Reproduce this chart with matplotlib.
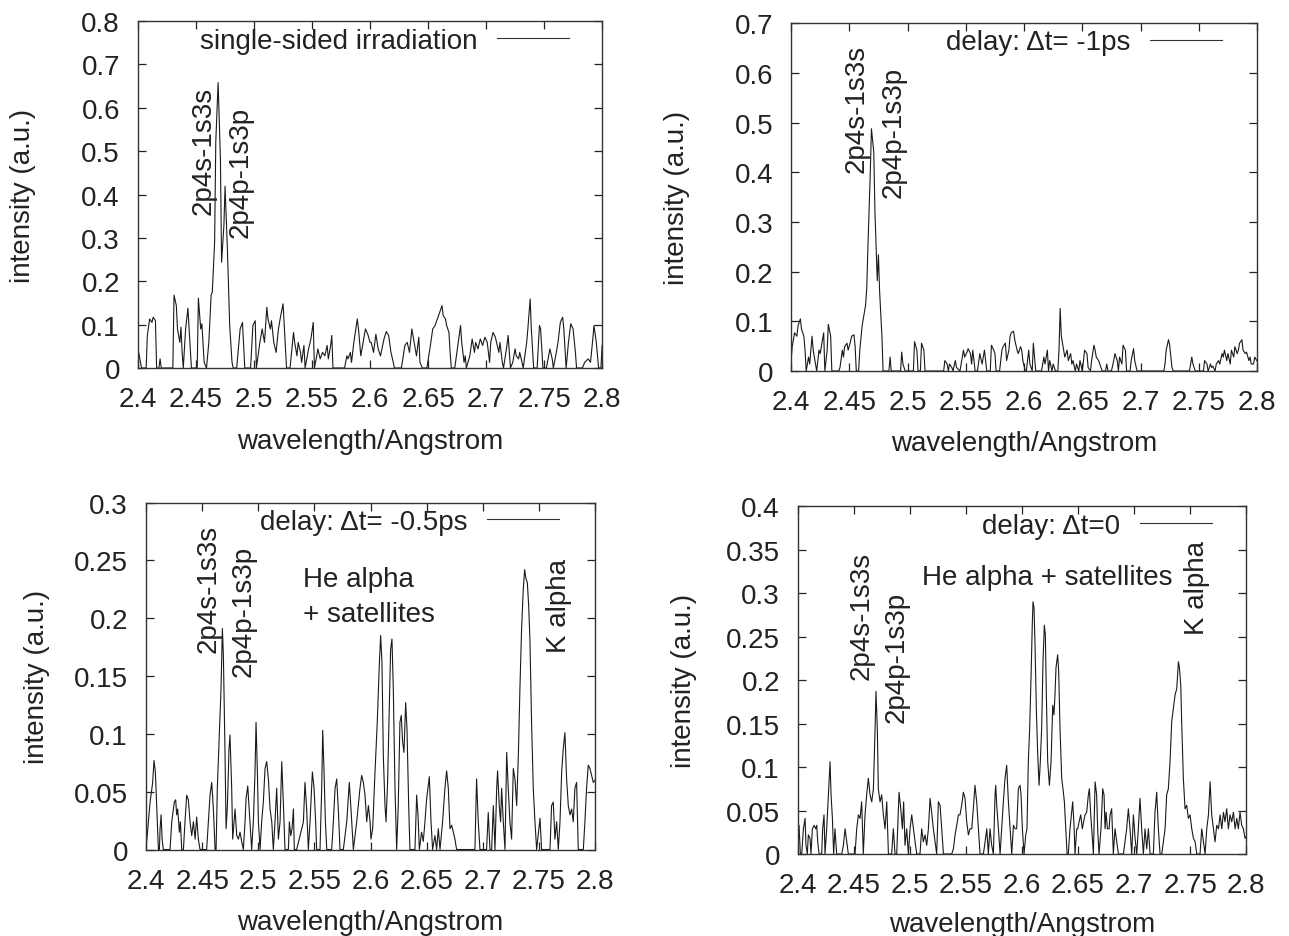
import matplotlib
matplotlib.use("Agg")
import matplotlib.pyplot as plt
from matplotlib.ticker import FixedLocator, FuncFormatter
from matplotlib.lines import Line2D

plt.rcParams['font.family'] = ['Liberation Sans', 'DejaVu Sans']

# ---------------- data (wavelength / Angstrom, intensity a.u.) ----------------
single_sided = [
    (2.400,0.044),(2.403,0),(2.407,0),(2.408,0.075),(2.410,0.113),(2.412,0.105),(2.413,0.117),(2.415,0.109),
    (2.416,0),(2.418,0),(2.419,0.021),(2.420,0),(2.430,0),(2.431,0.168),(2.433,0.144),(2.434,0.090),
    (2.436,0.059),(2.437,0.094),(2.438,0.036),(2.439,0),(2.441,0.090),(2.443,0.138),(2.444,0.090),(2.446,0),
    (2.451,0),(2.452,0.161),(2.454,0.090),(2.455,0.102),(2.457,0.013),(2.459,0),(2.461,0.059),(2.463,0.168),
    (2.464,0.175),(2.466,0.290),(2.467,0.521),(2.469,0.658),(2.471,0.482),(2.472,0.244),(2.474,0.328),(2.475,0.419),
    (2.477,0.275),(2.479,0.098),(2.481,0.013),(2.482,0),(2.485,0),(2.488,0.090),(2.490,0.105),(2.492,0),
    (2.497,0),(2.499,0.098),(2.501,0.109),(2.502,0),(2.505,0.059),(2.507,0.090),(2.509,0.059),(2.511,0.140),
    (2.512,0.113),(2.514,0.090),(2.515,0.109),(2.517,0.059),(2.519,0.036),(2.521,0.090),(2.523,0.121),(2.525,0.148),
    (2.526,0.098),(2.528,0),(2.531,0),(2.534,0.082),(2.535,0.059),(2.537,0.028),(2.538,0.059),(2.540,0.036),
    (2.541,0.013),(2.543,0.052),(2.544,0),(2.547,0.044),(2.549,0.067),(2.551,0.105),(2.552,0),(2.554,0.028),
    (2.555,0.044),(2.557,0.021),(2.559,0.036),(2.561,0.028),(2.563,0.052),(2.564,0.021),(2.566,0.052),(2.567,0.075),
    (2.568,0),(2.578,0),(2.580,0.028),(2.581,0.021),(2.583,0.036),(2.584,0.013),(2.586,0.059),(2.589,0.113),
    (2.590,0.090),(2.592,0.028),(2.594,0.059),(2.596,0.090),(2.598,0.078),(2.600,0.059),(2.601,0.059),(2.603,0.036),
    (2.605,0.078),(2.607,0.044),(2.609,0.028),(2.612,0.067),(2.614,0.084),(2.616,0.075),(2.618,0.036),(2.620,0.013),
    (2.621,0),(2.627,0),(2.630,0.052),(2.632,0.059),(2.634,0.036),(2.636,0.090),(2.638,0.059),(2.640,0.028),
    (2.642,0.071),(2.643,0.013),(2.645,0),(2.649,0),(2.652,0.052),(2.654,0.090),(2.656,0.098),(2.658,0.113),
    (2.660,0.128),(2.662,0.144),(2.663,0.121),(2.665,0.113),(2.666,0.098),(2.668,0.082),(2.669,0.036),(2.670,0),
    (2.673,0),(2.676,0.059),(2.678,0.098),(2.679,0.059),(2.681,0.013),(2.682,0.028),(2.683,0),(2.686,0.028),
    (2.688,0.067),(2.690,0.036),(2.691,0.059),(2.693,0.044),(2.695,0.067),(2.697,0.052),(2.699,0.071),(2.701,0.059),
    (2.703,0.013),(2.704,0.059),(2.706,0.082),(2.708,0.071),(2.709,0.059),(2.711,0.036),(2.712,0.059),(2.714,0.013),
    (2.715,0),(2.718,0.052),(2.719,0.075),(2.721,0),(2.723,0.013),(2.725,0.044),(2.726,0.028),(2.728,0.021),
    (2.729,0.036),(2.731,0.013),(2.732,0),(2.735,0.059),(2.736,0.090),(2.738,0.159),(2.739,0.090),(2.741,0),
    (2.744,0),(2.746,0.098),(2.747,0.090),(2.749,0),(2.752,0),(2.755,0.044),(2.757,0.021),(2.758,0),
    (2.760,0.028),(2.762,0.059),(2.764,0.105),(2.766,0.117),(2.767,0.090),(2.769,0),(2.771,0.059),(2.773,0.102),
    (2.775,0.090),(2.777,0.036),(2.778,0),(2.783,0),(2.785,0.013),(2.788,0.021),(2.790,0.013),(2.792,0.067),
    (2.793,0.098),(2.795,0.059),(2.797,0),(2.799,0),(2.800,0.052),
]

delay_m1ps = [
    (2.400,0.021),(2.401,0.049),(2.403,0.077),(2.405,0.070),(2.406,0.091),(2.408,0.105),(2.409,0.084),(2.411,0.070),
    (2.412,0.042),(2.413,0),(2.415,0.028),(2.416,0.014),(2.418,0.070),(2.419,0.042),(2.421,0.014),(2.422,0),
    (2.424,0.042),(2.425,0.035),(2.426,0.049),(2.428,0.077),(2.429,0),(2.431,0.042),(2.432,0.094),(2.434,0.070),
    (2.435,0),(2.441,0),(2.442,0.007),(2.444,0.042),(2.445,0.028),(2.446,0.049),(2.448,0.056),(2.449,0.042),
    (2.451,0.059),(2.452,0.070),(2.454,0.073),(2.455,0.049),(2.456,0),(2.458,0),(2.459,0.042),(2.461,0.091),
    (2.462,0.105),(2.464,0.133),(2.465,0.168),(2.466,0.252),(2.468,0.399),(2.469,0.488),(2.471,0.441),(2.472,0.322),
    (2.474,0.182),(2.475,0.234),(2.476,0.161),(2.478,0.070),(2.479,0),(2.484,0),(2.485,0.028),(2.486,0),
    (2.494,0),(2.495,0.038),(2.496,0.014),(2.498,0),(2.505,0),(2.506,0.059),(2.508,0.042),(2.509,0),
    (2.511,0),(2.512,0.056),(2.514,0.042),(2.515,0),(2.531,0),(2.532,0.021),(2.534,0.014),(2.535,0),
    (2.536,0.014),(2.538,0.007),(2.539,0),(2.541,0.021),(2.542,0.007),(2.545,0),(2.547,0.028),(2.548,0.042),
    (2.549,0.028),(2.551,0.038),(2.552,0.045),(2.554,0.035),(2.555,0.014),(2.556,0.042),(2.558,0),(2.560,0),
    (2.562,0.035),(2.564,0.014),(2.566,0.042),(2.568,0),(2.571,0),(2.572,0.052),(2.574,0.042),(2.575,0.035),
    (2.576,0),(2.579,0),(2.581,0.042),(2.582,0.049),(2.584,0.056),(2.585,0.021),(2.587,0.042),(2.588,0.070),
    (2.589,0.077),(2.591,0.080),(2.592,0.063),(2.594,0.042),(2.595,0.035),(2.597,0.049),(2.598,0.042),(2.599,0.021),
    (2.601,0),(2.602,0),(2.604,0.042),(2.605,0.014),(2.607,0),(2.608,0.056),(2.610,0),(2.615,0),
    (2.617,0.028),(2.618,0.014),(2.620,0.042),(2.621,0),(2.622,0.021),(2.624,0),(2.625,0.014),(2.627,0),
    (2.629,0),(2.630,0.042),(2.631,0.126),(2.632,0.070),(2.634,0.042),(2.635,0.028),(2.637,0.042),(2.638,0.021),
    (2.640,0.035),(2.641,0.014),(2.642,0.021),(2.644,0),(2.645,0.014),(2.647,0),(2.648,0.021),(2.650,0),
    (2.652,0.042),(2.654,0.035),(2.655,0.007),(2.657,0),(2.658,0.021),(2.660,0.052),(2.661,0.042),(2.662,0.028),
    (2.664,0.021),(2.665,0.014),(2.667,0),(2.670,0),(2.671,0.014),(2.672,0),(2.675,0),(2.677,0.021),
    (2.678,0.035),(2.680,0.021),(2.681,0),(2.682,0.028),(2.684,0.014),(2.685,0.052),(2.687,0.042),(2.688,0),
    (2.691,0),(2.692,0.021),(2.694,0.045),(2.695,0.021),(2.697,0),(2.720,0),(2.721,0.014),(2.722,0.042),
    (2.724,0.063),(2.725,0.052),(2.727,0.007),(2.728,0),(2.742,0),(2.744,0.028),(2.745,0.014),(2.747,0),
    (2.754,0),(2.755,0.021),(2.757,0.014),(2.758,0),(2.760,0.014),(2.761,0.007),(2.762,0.010),(2.764,0),
    (2.765,0.014),(2.767,0.021),(2.768,0.014),(2.770,0.035),(2.771,0.028),(2.772,0.042),(2.774,0.021),(2.775,0.035),
    (2.777,0.014),(2.778,0.042),(2.780,0.028),(2.781,0.049),(2.783,0.035),(2.784,0.042),(2.785,0.056),(2.787,0.063),
    (2.788,0.042),(2.790,0.035),(2.791,0.038),(2.793,0.021),(2.794,0.028),(2.795,0.014),(2.797,0.014),(2.798,0.028),
    (2.800,0.020),
]

delay_m05ps = [
    (2.4006,0.007),(2.4021,0.024),(2.4036,0.041),(2.4059,0.058),(2.4071,0.077),(2.4083,0.067),(2.4095,0.038),(2.4110,0),
    (2.4119,0),(2.4125,0.018),(2.4134,0.030),(2.4143,0.009),(2.4154,0),(2.4214,0),(2.4229,0.024),(2.4244,0.035),
    (2.4252,0.041),(2.4264,0.043),(2.4273,0.030),(2.4282,0.035),(2.4297,0.015),(2.4306,0.024),(2.4318,0),(2.4333,0),
    (2.4347,0.024),(2.4362,0.047),(2.4377,0.043),(2.4392,0.024),(2.4407,0.012),(2.4422,0.024),(2.4437,0.009),(2.4451,0.028),
    (2.4466,0.009),(2.4481,0),(2.4540,0),(2.4555,0.024),(2.4570,0.047),(2.4585,0.058),(2.4600,0.035),(2.4615,0),
    (2.4624,0),(2.4635,0.053),(2.4650,0.093),(2.4668,0.139),(2.4680,0.191),(2.4689,0.168),(2.4704,0.081),(2.4713,0.018),
    (2.4725,0.038),(2.4739,0.087),(2.4748,0.099),(2.4763,0.053),(2.4772,0.009),(2.4784,0.024),(2.4793,0.035),(2.4808,0.012),
    (2.4823,0.009),(2.4837,0.015),(2.4852,0.007),(2.4867,0),(2.4882,0.024),(2.4891,0.044),(2.4906,0.055),(2.4926,0.024),
    (2.4941,0),(2.4956,0.024),(2.4971,0.067),(2.4980,0.110),(2.4992,0.067),(2.5001,0.024),(2.5016,0),(2.5030,0.024),
    (2.5045,0.041),(2.5060,0.070),(2.5075,0.076),(2.5090,0.061),(2.5105,0.035),(2.5120,0.024),(2.5134,0),(2.5149,0.024),
    (2.5164,0.053),(2.5179,0.009),(2.5194,0.024),(2.5209,0.076),(2.5223,0.041),(2.5238,0),(2.5268,0),(2.5277,0.024),
    (2.5289,0.012),(2.5301,0.018),(2.5313,0.035),(2.5321,0),(2.5342,0),(2.5402,0.024),(2.5416,0.058),(2.5431,0.035),
    (2.5446,0),(2.5461,0.024),(2.5482,0.067),(2.5497,0.053),(2.5511,0.024),(2.5520,0),(2.5550,0),(2.5565,0.053),
    (2.5574,0.103),(2.5586,0.067),(2.5598,0.024),(2.5610,0),(2.5654,0),(2.5669,0.024),(2.5684,0.053),(2.5699,0.061),
    (2.5713,0.035),(2.5728,0),(2.5758,0),(2.5788,0.024),(2.5811,0.058),(2.5826,0.035),(2.5847,0),(2.5877,0.024),
    (2.5906,0.053),(2.5921,0.064),(2.5936,0.058),(2.5951,0.047),(2.5966,0.024),(2.5981,0.038),(2.5996,0.024),(2.6004,0.009),
    (2.6019,0.018),(2.6040,0.067),(2.6060,0.110),(2.6078,0.159),(2.6090,0.185),(2.6102,0.162),(2.6114,0.081),(2.6129,0.038),
    (2.6138,0.024),(2.6152,0.058),(2.6167,0.124),(2.6179,0.173),(2.6191,0.182),(2.6203,0.139),(2.6218,0.053),(2.6233,0),
    (2.6247,0.038),(2.6262,0.110),(2.6274,0.116),(2.6286,0.093),(2.6298,0.084),(2.6313,0.127),(2.6325,0.104),(2.6340,0.038),
    (2.6351,0),(2.6396,0),(2.6411,0.047),(2.6423,0.030),(2.6435,0),(2.6455,0.015),(2.6470,0.007),(2.6485,0.024),
    (2.6500,0.044),(2.6524,0.063),(2.6539,0.024),(2.6553,0),(2.6574,0.012),(2.6589,0),(2.6604,0.018),(2.6619,0),
    (2.6642,0.024),(2.6663,0.053),(2.6678,0.068),(2.6693,0.053),(2.6708,0.018),(2.6723,0.021),(2.6737,0.015),(2.6752,0.009),
    (2.6767,0),(2.6930,0),(2.6945,0.061),(2.6960,0.024),(2.6975,0),(2.7034,0),(2.7049,0.032),(2.7064,0),
    (2.7079,0),(2.7094,0.038),(2.7109,0),(2.7124,0.053),(2.7132,0.068),(2.7147,0.038),(2.7159,0.024),(2.7168,0.053),
    (2.7183,0.024),(2.7198,0),(2.7213,0.084),(2.7227,0.053),(2.7242,0.024),(2.7257,0.009),(2.7272,0.070),(2.7287,0.061),
    (2.7302,0.038),(2.7317,0.081),(2.7331,0.139),(2.7346,0.191),(2.7361,0.225),(2.7373,0.242),(2.7385,0.234),(2.7397,0.231),
    (2.7409,0.211),(2.7420,0.182),(2.7435,0.110),(2.7450,0.053),(2.7465,0.024),(2.7480,0),(2.7510,0.027),(2.7524,0),
    (2.7599,0),(2.7613,0.038),(2.7628,0.041),(2.7643,0.009),(2.7658,0.024),(2.7673,0),(2.7688,0.024),(2.7703,0.067),
    (2.7717,0.087),(2.7732,0.101),(2.7747,0.061),(2.7762,0.038),(2.7777,0.030),(2.7792,0.035),(2.7806,0.024),(2.7821,0.053),
    (2.7836,0.058),(2.7851,0),(2.7896,0),(2.7910,0.024),(2.7925,0.053),(2.7940,0.073),(2.7955,0.070),(2.7970,0.064),
    (2.7985,0.058),(2.8000,0.060),
]

delay_0ps = [
    (2.4000,0.029),(2.4009,0.033),(2.4021,0),(2.4033,0),(2.4048,0.029),(2.4063,0.041),(2.4071,0.010),(2.4083,0),
    (2.4092,0.022),(2.4107,0.018),(2.4116,0),(2.4128,0.029),(2.4143,0.033),(2.4158,0.029),(2.4167,0.033),(2.4176,0.014),
    (2.4188,0),(2.4211,0),(2.4220,0.029),(2.4232,0.045),(2.4241,0),(2.4256,0.029),(2.4271,0.068),(2.4286,0.106),
    (2.4295,0.068),(2.4307,0.041),(2.4318,0),(2.4330,0.029),(2.4345,0),(2.4390,0),(2.4405,0.010),(2.4420,0.029),
    (2.4435,0.014),(2.4449,0),(2.4509,0),(2.4524,0.029),(2.4539,0.045),(2.4554,0.041),(2.4568,0.060),(2.4583,0),
    (2.4598,0.045),(2.4613,0.068),(2.4628,0.087),(2.4643,0.068),(2.4658,0.060),(2.4673,0.075),(2.4688,0.144),(2.4696,0.187),
    (2.4708,0.144),(2.4717,0.075),(2.4732,0.060),(2.4747,0.068),(2.4762,0.045),(2.4777,0.029),(2.4792,0.060),(2.4807,0),
    (2.4836,0),(2.4851,0.029),(2.4866,0),(2.4881,0),(2.4902,0.071),(2.4917,0.052),(2.4932,0.029),(2.4943,0.060),
    (2.4955,0.010),(2.4970,0.029),(2.4985,0),(2.5000,0.029),(2.5015,0.045),(2.5030,0.029),(2.5045,0.014),(2.5060,0),
    (2.5089,0),(2.5104,0.029),(2.5119,0.014),(2.5134,0.022),(2.5149,0.010),(2.5164,0.029),(2.5179,0.064),(2.5193,0.048),
    (2.5208,0.029),(2.5223,0.014),(2.5238,0),(2.5253,0.060),(2.5268,0.056),(2.5283,0.029),(2.5298,0),(2.5372,0),
    (2.5387,0.006),(2.5402,0.022),(2.5417,0.033),(2.5432,0.045),(2.5446,0.045),(2.5461,0.056),(2.5476,0.071),(2.5491,0.064),
    (2.5506,0.037),(2.5521,0.022),(2.5536,0.029),(2.5551,0.029),(2.5565,0.052),(2.5580,0.079),(2.5595,0.060),(2.5610,0.029),
    (2.5625,0),(2.5655,0),(2.5670,0.014),(2.5685,0.029),(2.5699,0),(2.5714,0.029),(2.5729,0.010),(2.5744,0),
    (2.5759,0.068),(2.5765,0.079),(2.5774,0.056),(2.5789,0.029),(2.5804,0),(2.5818,0.029),(2.5833,0.060),(2.5848,0.087),
    (2.5863,0.102),(2.5878,0.060),(2.5893,0.029),(2.5908,0),(2.5923,0.033),(2.5938,0.029),(2.5952,0.029),(2.5967,0.075),
    (2.5982,0.079),(2.5991,0.068),(2.6003,0.029),(2.6018,0),(2.6033,0.022),(2.6044,0.029),(2.6056,0.106),(2.6068,0.144),
    (2.6080,0.202),(2.6092,0.267),(2.6098,0.290),(2.6107,0.283),(2.6116,0.240),(2.6128,0.164),(2.6140,0.114),(2.6152,0.079),
    (2.6163,0.106),(2.6175,0.144),(2.6187,0.221),(2.6199,0.263),(2.6208,0.252),(2.6217,0.183),(2.6229,0.106),(2.6244,0.079),
    (2.6259,0.106),(2.6274,0.171),(2.6285,0.160),(2.6294,0.183),(2.6303,0.214),(2.6318,0.229),(2.6327,0.210),(2.6339,0.144),
    (2.6354,0.087),(2.6369,0.071),(2.6378,0.060),(2.6390,0.029),(2.6402,0),(2.6413,0),(2.6428,0.029),(2.6443,0.048),
    (2.6452,0.060),(2.6464,0.033),(2.6473,0),(2.6488,0.029),(2.6497,0.029),(2.6509,0.037),(2.6524,0.045),(2.6538,0.029),
    (2.6550,0.037),(2.6562,0.045),(2.6577,0.048),(2.6592,0.068),(2.6601,0.075),(2.6613,0.045),(2.6622,0.029),(2.6637,0),
    (2.6652,0.083),(2.6666,0.068),(2.6675,0.029),(2.6687,0),(2.6705,0.029),(2.6720,0.075),(2.6732,0.068),(2.6741,0.029),
    (2.6750,0.048),(2.6762,0.029),(2.6777,0.029),(2.6786,0.045),(2.6800,0.052),(2.6815,0),(2.6830,0.029),(2.6845,0.014),
    (2.6860,0),(2.6905,0),(2.6934,0.029),(2.6949,0.052),(2.6964,0.029),(2.6979,0),(2.6994,0.045),(2.7009,0.018),
    (2.7024,0),(2.7038,0.029),(2.7053,0.064),(2.7068,0.029),(2.7083,0),(2.7098,0.029),(2.7113,0.006),(2.7128,0.029),
    (2.7143,0),(2.7172,0),(2.7187,0.048),(2.7202,0.071),(2.7217,0.029),(2.7232,0),(2.7247,0),(2.7277,0.029),
    (2.7291,0.068),(2.7306,0.075),(2.7321,0.106),(2.7336,0.152),(2.7351,0.167),(2.7366,0.183),(2.7381,0.190),(2.7396,0.221),
    (2.7405,0.214),(2.7417,0.194),(2.7425,0.152),(2.7440,0.087),(2.7455,0.052),(2.7470,0.056),(2.7485,0.041),(2.7500,0.045),
    (2.7515,0.029),(2.7530,0.018),(2.7545,0.014),(2.7560,0),(2.7589,0),(2.7604,0.029),(2.7619,0.014),(2.7634,0),
    (2.7649,0.029),(2.7664,0.045),(2.7679,0.083),(2.7693,0.045),(2.7708,0.029),(2.7723,0.014),(2.7738,0.033),(2.7753,0.029),
    (2.7768,0.045),(2.7783,0.029),(2.7798,0.048),(2.7812,0.037),(2.7827,0.052),(2.7842,0.029),(2.7857,0.045),(2.7872,0.037),
    (2.7887,0.048),(2.7902,0.029),(2.7917,0.041),(2.7931,0.029),(2.7946,0.048),(2.7961,0.033),(2.7976,0.029),(2.7991,0.018),
    (2.8000,0.020),
]

x_ticks = [2.4, 2.45, 2.5, 2.55, 2.6, 2.65, 2.7, 2.75, 2.8]
legend_labels = ["single-sided irradiation", "delay: \u0394t= -1ps",
                 "delay: \u0394t= -0.5ps", "delay: \u0394t=0"]
y_ticks = [
    [0, 0.1, 0.2, 0.3, 0.4, 0.5, 0.6, 0.7, 0.8],
    [0, 0.1, 0.2, 0.3, 0.4, 0.5, 0.6, 0.7],
    [0, 0.05, 0.1, 0.15, 0.2, 0.25, 0.3],
    [0, 0.05, 0.1, 0.15, 0.2, 0.25, 0.3, 0.35, 0.4],
]
series = [single_sided, delay_m1ps, delay_m05ps, delay_0ps]

# annotations: (text, x, y, rotation, ha, va)
annotations = [
    [("2p4s-1s3s", 2.4569, 0.355, 90, 'center', 'bottom'),
     ("2p4p-1s3p", 2.4888, 0.302, 90, 'center', 'bottom')],
    [("2p4s-1s3s", 2.4562, 0.400, 90, 'center', 'bottom'),
     ("2p4p-1s3p", 2.4880, 0.350, 90, 'center', 'bottom')],
    [("2p4s-1s3s", 2.4557, 0.1707, 90, 'center', 'bottom'),
     ("2p4p-1s3p", 2.4869, 0.150, 90, 'center', 'bottom'),
     ("He alpha", 2.5399, 0.2280, 0, 'left', 'baseline'),
     ("+ satellites", 2.5399, 0.1980, 0, 'left', 'baseline'),
     ("K alpha", 2.768, 0.1707, 90, 'center', 'bottom')],
    [("2p4s-1s3s", 2.4567, 0.201, 90, 'center', 'bottom'),
     ("2p4p-1s3p", 2.4880, 0.1517, 90, 'center', 'bottom'),
     ("He alpha + satellites", 2.5107, 0.3100, 0, 'left', 'baseline'),
     ("K alpha", 2.7562, 0.2529, 90, 'center', 'bottom')],
]

# ---------------- layout ----------------
rects = [
    [0.1071, 0.6062, 0.3600, 0.3703],
    [0.6137, 0.6030, 0.3615, 0.3709],
    [0.1133, 0.0923, 0.3483, 0.3703],
    [0.6191, 0.0875, 0.3476, 0.3714],
]
legend_anchor = [(0.929, 0.942), (0.925, 0.946), (0.920, 0.944), (0.924, 0.943)]
ylabel_x = [-0.220, -0.217, -0.214, -0.225]
xlabel_y = [-0.172, -0.170, -0.171, -0.163]

FS = 20
fig = plt.figure(figsize=(12.89, 9.37), dpi=100)
fmt = FuncFormatter(lambda v, p: f"{v:g}")

for i in range(4):
    ax = fig.add_axes(rects[i])
    wl = [p[0] for p in series[i]]
    inten = [p[1] for p in series[i]]
    ax.plot(wl, inten, color='#1a1a1a', lw=0.8)
    ax.set_xlim(2.4, 2.8)
    ax.set_ylim(y_ticks[i][0], y_ticks[i][-1])
    ax.xaxis.set_major_locator(FixedLocator(x_ticks))
    ax.yaxis.set_major_locator(FixedLocator(y_ticks[i]))
    ax.xaxis.set_major_formatter(fmt)
    ax.yaxis.set_major_formatter(fmt)
    ax.tick_params(direction='in', top=True, right=True, length=6, width=0.9,
                   labelsize=FS, colors='#222222')
    ax.tick_params(axis='x', pad=13)
    ax.tick_params(axis='y', pad=13)
    for s in ax.spines.values():
        s.set_linewidth(1.0)
        s.set_color('#333333')
    ax.set_xlabel("wavelength/Angstrom", fontsize=FS, color='#222222')
    ax.set_ylabel("intensity (a.u.)", fontsize=FS, color='#222222')
    ax.xaxis.set_label_coords(0.5, xlabel_y[i])
    ax.yaxis.set_label_coords(ylabel_x[i], 0.5)
    handle = Line2D([], [], color='#333333', lw=0.8)
    ax.legend([handle], [legend_labels[i]], loc='center right',
              bbox_to_anchor=legend_anchor[i], frameon=False, markerfirst=False,
              handlelength=2.6, handletextpad=0.7, borderpad=0, borderaxespad=0,
              fontsize=FS, labelcolor='#222222')
    for (t, x, y, rot, ha, va) in annotations[i]:
        ax.text(x, y, t, rotation=rot, ha=ha, va=va, fontsize=FS, color='#222222')

fig.savefig("out.png", dpi=100)
